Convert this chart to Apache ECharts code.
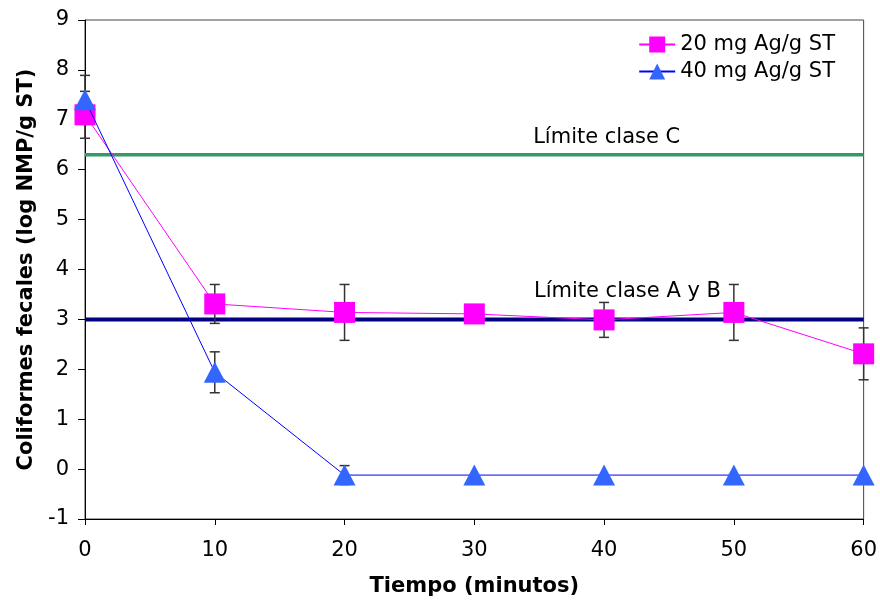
<!DOCTYPE html>
<html><head><meta charset="utf-8">
<script src="https://cdn.jsdelivr.net/npm/echarts@6/dist/echarts.min.js"></script>
<style>html,body{margin:0;padding:0;background:#fff;overflow:hidden}#c{width:880px;height:602px}</style>
</head><body><div id="c"></div>
<script>
var times = [0, 10, 20, 30, 40, 50, 60];
var s20 = [7.1, 3.31, 3.14, 3.11, 2.99, 3.14, 2.31];
var s20err = [0.47, 0.39, 0.56, 0.05, 0.35, 0.56, 0.52];
var s40 = [7.4, 1.94, -0.12, -0.12, -0.12, -0.12, -0.12];
var s40err = [0.49, 0.41, 0.19, 0, 0, 0, 0];
var limitC = 6.3;
var limitAB = 3.0;
var name20 = '20 mg Ag/g ST';
var name40 = '40 mg Ag/g ST';
var labelC = 'Límite clase C';
var labelAB = 'Límite clase A y B';
var labelCpos = [40.2, 6.65];
var labelABpos = [41.8, 3.55];

var FONT = 'DejaVu Sans';
var FS = 21;
function pts(vals){ return times.map(function(t,i){ return [t, vals[i]]; }); }
function errs(vals, e){
  var out = [];
  times.forEach(function(t,i){ if (e[i] > 0) out.push([t, vals[i]-e[i], vals[i]+e[i]]); });
  return out;
}
function errRender(params, api){
  var x = api.value(0);
  var lo = api.coord([x, api.value(1)]);
  var hi = api.coord([x, api.value(2)]);
  var w = 5;
  var st = {stroke: '#333', lineWidth: 1.5};
  return {type: 'group', children: [
    {type: 'line', shape: {x1: lo[0], y1: lo[1], x2: hi[0], y2: hi[1]}, style: st},
    {type: 'line', shape: {x1: lo[0]-w, y1: lo[1], x2: lo[0]+w, y2: lo[1]}, style: st},
    {type: 'line', shape: {x1: hi[0]-w, y1: hi[1], x2: hi[0]+w, y2: hi[1]}, style: st}
  ]};
}

var chart = echarts.init(document.getElementById('c'), null, {renderer: 'canvas', width: 880, height: 602});
var option = {
  animation: false,
  backgroundColor: '#fff',
  textStyle: {fontFamily: FONT},
  grid: {left: 85, right: 15, top: 20, bottom: 80, show: true, borderColor: '#444', borderWidth: 1, backgroundColor: 'transparent'},
  legend: {
    orient: 'vertical', right: 40, top: 29, itemGap: 6,
    itemWidth: 36, itemHeight: 20,
    textStyle: {fontFamily: FONT, fontSize: FS, color: '#000'},
    data: [name20, name40]
  },
  xAxis: {
    type: 'value', min: 0, max: 60, interval: 10,
    name: 'Tiempo (minutos)', nameLocation: 'middle', nameGap: 57,
    nameTextStyle: {fontFamily: FONT, fontSize: FS, fontWeight: 'bold', color: '#000'},
    axisLine: {onZero: false, lineStyle: {color: '#000', width: 1}},
    axisTick: {show: true, length: 6, lineStyle: {color: '#000'}},
    axisLabel: {fontFamily: FONT, fontSize: FS, color: '#000', margin: 21},
    splitLine: {show: false}
  },
  yAxis: {
    type: 'value', min: -1, max: 9, interval: 1,
    name: 'Coliformes fecales (log NMP/g ST)', nameLocation: 'middle', nameGap: 45, nameRotate: 90,
    nameTextStyle: {fontFamily: FONT, fontSize: FS, fontWeight: 'bold', color: '#000'},
    axisLine: {show: true, onZero: false, lineStyle: {color: '#000', width: 1}},
    axisTick: {show: true, length: 7, lineStyle: {color: '#000'}},
    axisLabel: {fontFamily: FONT, fontSize: FS, color: '#000', margin: 16},
    splitLine: {show: false}
  },
  series: [
    {
      type: 'line', name: 'refC', data: [[0, limitC], [60, limitC]], symbol: 'none', z: 1,
      lineStyle: {color: '#339966', width: 3.5}, silent: true
    },
    {
      type: 'line', name: 'refAB', data: [[0, limitAB], [60, limitAB]], symbol: 'none', z: 1,
      lineStyle: {color: '#000080', width: 4}, silent: true
    },
    {type: 'custom', name: 'e20', renderItem: errRender, data: errs(s20, s20err), z: 2, silent: true},
    {type: 'custom', name: 'e40', renderItem: errRender, data: errs(s40, s40err), z: 2, silent: true},
    {
      type: 'line', name: name20, data: pts(s20), z: 3,
      symbol: 'rect', symbolSize: 21,
      lineStyle: {color: '#FF00FF', width: 1},
      itemStyle: {color: '#FF00FF', borderWidth: 0}
    },
    {
      type: 'line', name: name40, data: pts(s40), z: 4,
      symbol: 'triangle', symbolSize: [22, 21],
      lineStyle: {color: '#0000FF', width: 1},
      itemStyle: {color: '#3366FF', borderWidth: 0}
    }
  ]
};
chart.setOption(option);
var pC = chart.convertToPixel({gridIndex: 0}, labelCpos);
var pAB = chart.convertToPixel({gridIndex: 0}, labelABpos);
chart.setOption({
  graphic: [
    {type: 'text', x: pC[0], y: pC[1], style: {text: labelC, fontFamily: FONT, fontSize: FS, fill: '#000', align: 'center', verticalAlign: 'middle'}},
    {type: 'text', x: pAB[0], y: pAB[1], style: {text: labelAB, fontFamily: FONT, fontSize: FS, fill: '#000', align: 'center', verticalAlign: 'middle'}}
  ]
});
</script>
</body></html>
